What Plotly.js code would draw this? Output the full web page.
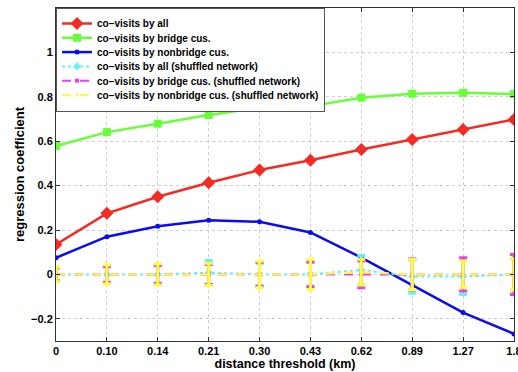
<!DOCTYPE html>
<html><head><meta charset="utf-8">
<script src="https://cdn.plot.ly/plotly-3.0.1.min.js"></script>
<style>html,body{margin:0;padding:0;background:#fff}#chart{width:518px;height:372px}</style>
</head><body><div id="chart"></div>
<script>
const categories = ['0','0.10','0.14','0.21','0.30','0.43','0.62','0.89','1.27','1.8'];
const coAll = [0.135,0.275,0.35,0.413,0.47,0.514,0.563,0.608,0.653,0.698];
const coBridge = [0.578,0.641,0.679,0.718,0.751,0.758,0.796,0.814,0.818,0.812];
const coNonbridge = [0.075,0.17,0.217,0.244,0.237,0.189,0.076,-0.048,-0.172,-0.268];
const shufAll = [0,0,0,0.008,0,0,0.02,-0.01,-0.01,0];
const shufAllErr = [0.03,0.04,0.045,0.055,0.05,0.06,0.065,0.075,0.08,0.07];
const shufBridge = [0,0,0,0,0,0,0,0,0,0];
const shufBridgeErr = [0.03,0.035,0.04,0.045,0.055,0.055,0.06,0.07,0.075,0.09];
const shufNon = [0,0,0,0,0,0,0.01,0,0,0];
const shufNonErr = [0.033,0.043,0.048,0.05,0.06,0.068,0.058,0.068,0.06,0.07];
const yTicks = [-0.2,0,0.2,0.4,0.6,0.8,1];
const yTickText = ['\u22120.2','0','0.2','0.4','0.6','0.8','1'];

const traces = [
 {x:categories,y:coAll,name:'co\u2212visits by all',mode:'lines+markers',line:{color:'#f52a22',width:2.5},marker:{symbol:'diamond',size:10,color:'#f52a22'}},
 {x:categories,y:coBridge,name:'co\u2212visits by bridge cus.',mode:'lines+markers',line:{color:'#66ff38',width:2.5},marker:{symbol:'square',size:8,color:'#66ff38'}},
 {x:categories,y:coNonbridge,name:'co\u2212visits by nonbridge cus.',mode:'lines+markers',line:{color:'#0a0af5',width:2.5},marker:{symbol:'circle',size:5,color:'#0a0af5'}},
 {x:categories,y:shufAll,name:'co\u2212visits by all (shuffled network)',mode:'lines+markers',line:{color:'#5cf5f5',width:2,dash:'dot'},marker:{symbol:'diamond',size:6,color:'#5cf5f5'},error_y:{type:'data',array:shufAllErr,visible:true,color:'#5cf5f5',thickness:3,width:4}},
 {x:categories,y:shufBridge,name:'co\u2212visits by bridge cus. (shuffled network)',mode:'lines+markers',line:{color:'#f23cf2',width:2,dash:'dash'},marker:{symbol:'square',size:4,color:'#f23cf2'},error_y:{type:'data',array:shufBridgeErr,visible:true,color:'#f23cf2',thickness:3,width:4}},
 {x:categories,y:shufNon,name:'co\u2212visits by nonbridge cus. (shuffled network)',mode:'lines+markers',line:{color:'#ffff38',width:2,dash:'dash'},marker:{symbol:'circle',size:3,color:'#ffff38'},error_y:{type:'data',array:shufNonErr,visible:true,color:'#ffff38',thickness:3,width:4}}
];

const fam = 'Liberation Sans, Arial, sans-serif';
const layout = {
 width:518,height:372,
 margin:{l:56,r:4,t:8,b:31},
 paper_bgcolor:'#fff',plot_bgcolor:'#fff',
 font:{family:fam,size:11,color:'#000',weight:'bold'},
 showlegend:true,
 legend:{x:0,y:1,xanchor:'left',yanchor:'top',bgcolor:'#fff',bordercolor:'#555',borderwidth:1,
   font:{family:fam,size:10,color:'#000',weight:'bold'},
   tracegroupgap:0,itemwidth:30,traceorder:'normal'},
 xaxis:{type:'category',range:[0,9],tickvals:categories,ticktext:categories,
   showline:true,mirror:'ticks',linecolor:'#333',linewidth:1,ticks:'inside',ticklen:4,tickcolor:'#333',
   showgrid:true,gridcolor:'#cfcfcf',griddash:'dot',gridwidth:1,zeroline:false,
   tickfont:{family:fam,size:11,weight:'bold'},
   title:{text:'distance threshold (km)',font:{family:fam,size:12.5,weight:'bold'},standoff:0}},
 yaxis:{range:[-0.3,1.2],tickvals:yTicks,ticktext:yTickText,
   showline:true,mirror:'ticks',linecolor:'#333',linewidth:1,ticks:'inside',ticklen:4,tickcolor:'#333',
   showgrid:true,gridcolor:'#cfcfcf',griddash:'dot',gridwidth:1,zeroline:false,
   tickfont:{family:fam,size:11,weight:'bold'},
   title:{text:'regression coefficient',font:{family:fam,size:13,weight:'bold'},standoff:3}}
};
Plotly.newPlot('chart',traces,layout,{displayModeBar:false,staticPlot:true}).then(function(gd){
  // tighten legend row spacing to match the reference
  var leg = gd.querySelector('.legend');
  if(!leg) return;
  var items = leg.querySelectorAll('g.traces');
  var step = 14.3, y0 = null, lastY = 0;
  items.forEach(function(g,i){
    var t = g.getAttribute('transform') || '';
    var m = /translate\(\s*([-\d.]+)[ ,]+([-\d.]+)\s*\)/.exec(t);
    if(!m) return;
    var x = parseFloat(m[1]), y = parseFloat(m[2]);
    if(y0 === null) y0 = y;
    lastY = y0 + i*step;
    g.setAttribute('transform','translate('+x+','+lastY+')');
  });
  var bg = leg.querySelector('rect.bg');
  if(bg && y0 !== null){ bg.setAttribute('height', lastY + y0 + 0.5); }
});
</script></body></html>
